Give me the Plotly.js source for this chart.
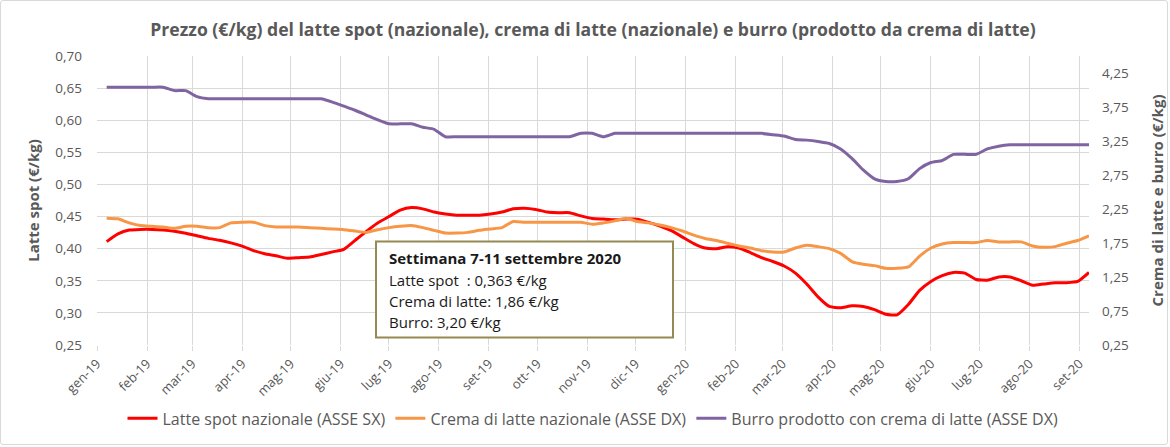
<!DOCTYPE html>
<html>
<head>
<meta charset="utf-8">
<script src="https://cdn.plot.ly/plotly-3.0.1.min.js"></script>
<style>
  html, body { margin: 0; padding: 0; background: #fff; }
  #chart { width: 1170px; height: 447px; position: relative; }
  #frame { position: absolute; left: 0; top: 0; width: 1166px; height: 443px; border: 1px solid #d9d9d9; border-radius: 3px; pointer-events: none; }
</style>
</head>
<body>
<div id="chart"></div>
<div id="frame"></div>
<script>
// Weekly dates (Mondays)
const weeks = [
  '2019-01-07','2019-01-14','2019-01-21','2019-01-28','2019-02-04','2019-02-11','2019-02-18','2019-02-25',
  '2019-03-04','2019-03-11','2019-03-18','2019-03-25','2019-04-01','2019-04-08','2019-04-15','2019-04-22',
  '2019-04-29','2019-05-06','2019-05-13','2019-05-20','2019-05-27','2019-06-03','2019-06-10','2019-06-17',
  '2019-06-24','2019-07-01','2019-07-08','2019-07-15','2019-07-22','2019-07-29','2019-08-05','2019-08-12',
  '2019-08-19','2019-08-26','2019-09-02','2019-09-09','2019-09-16','2019-09-23','2019-09-30','2019-10-07',
  '2019-10-14','2019-10-21','2019-10-28','2019-11-04','2019-11-11','2019-11-18','2019-11-25','2019-12-02',
  '2019-12-09','2019-12-16','2019-12-23','2019-12-30','2020-01-06','2020-01-13','2020-01-20','2020-01-27',
  '2020-02-03','2020-02-10','2020-02-17','2020-02-24','2020-03-02','2020-03-09','2020-03-16','2020-03-23',
  '2020-03-30','2020-04-06','2020-04-13','2020-04-20','2020-04-27','2020-05-04','2020-05-11','2020-05-18',
  '2020-05-25','2020-06-01','2020-06-08','2020-06-15','2020-06-22','2020-06-29','2020-07-06','2020-07-13',
  '2020-07-20','2020-07-27','2020-08-03','2020-08-10','2020-08-17','2020-08-24','2020-08-31','2020-09-07'
];

// Latte spot nazionale (€/kg) - left axis
const latteSpot = [
  0.411,0.423,0.429,0.430,0.430,0.429,0.427,0.424,0.420,0.416,0.413,0.409,0.404,0.397,0.392,0.389,
  0.385,0.386,0.387,0.391,0.395,0.399,0.413,0.427,0.440,0.450,0.460,0.464,0.462,0.457,0.454,0.452,
  0.452,0.452,0.454,0.457,0.462,0.463,0.461,0.457,0.456,0.456,0.451,0.447,0.446,0.445,0.446,0.446,
  0.441,0.435,0.428,0.418,0.408,0.401,0.400,0.403,0.401,0.394,0.386,0.380,0.373,0.362,0.345,0.325,
  0.310,0.308,0.311,0.310,0.305,0.298,0.297,0.313,0.335,0.349,0.358,0.363,0.362,0.352,0.351,0.356,
  0.356,0.350,0.343,0.345,0.347,0.347,0.349,0.363
];

// Crema di latte nazionale (€/kg) - right axis
const cremaLatte = [
  2.12,2.11,2.05,2.01,2.00,1.99,1.97,2.00,2.00,1.98,1.98,2.05,2.06,2.06,2.01,1.99,
  1.99,1.99,1.98,1.97,1.96,1.95,1.93,1.91,1.95,1.98,2.00,2.01,1.98,1.94,1.90,1.90,
  1.91,1.94,1.96,1.98,2.07,2.06,2.06,2.06,2.06,2.06,2.06,2.03,2.05,2.08,2.12,2.07,
  2.05,2.02,1.98,1.93,1.87,1.82,1.79,1.75,1.71,1.68,1.64,1.62,1.62,1.68,1.72,1.70,
  1.67,1.60,1.48,1.44,1.42,1.38,1.38,1.40,1.56,1.68,1.74,1.76,1.76,1.76,1.79,1.77,
  1.77,1.77,1.71,1.69,1.70,1.75,1.79,1.86
];

// Burro prodotto con crema di latte (€/kg) - right axis
const burro = [
  4.05,4.05,4.05,4.05,4.05,4.05,4.00,4.00,3.91,3.88,3.88,3.88,3.88,3.88,3.88,3.88,
  3.88,3.88,3.88,3.88,3.83,3.77,3.71,3.64,3.57,3.51,3.51,3.51,3.46,3.43,3.32,3.32,
  3.32,3.32,3.32,3.32,3.32,3.32,3.32,3.32,3.32,3.32,3.37,3.37,3.32,3.37,3.37,3.37,
  3.37,3.37,3.37,3.37,3.37,3.37,3.37,3.37,3.37,3.37,3.37,3.35,3.33,3.28,3.27,3.25,
  3.22,3.14,3.00,2.83,2.70,2.66,2.66,2.70,2.85,2.94,2.97,3.06,3.06,3.06,3.14,3.18,
  3.20,3.20,3.20,3.20,3.20,3.20,3.20,3.20
];

const monthTicks = [
  '2019-01-01','2019-02-01','2019-03-01','2019-04-01','2019-05-01','2019-06-01','2019-07-01',
  '2019-08-01','2019-09-01','2019-10-01','2019-11-01','2019-12-01','2020-01-01','2020-02-01',
  '2020-03-01','2020-04-01','2020-05-01','2020-06-01','2020-07-01','2020-08-01','2020-09-01'
];
const monthLabels = [
  'gen-19','feb-19','mar-19','apr-19','mag-19','giu-19','lug-19','ago-19','set-19','ott-19','nov-19','dic-19',
  'gen-20','feb-20','mar-20','apr-20','mag-20','giu-20','lug-20','ago-20','set-20'
];
const leftTicks = [0.25,0.30,0.35,0.40,0.45,0.50,0.55,0.60,0.65,0.70];
const rightTicks = [0.25,0.75,1.25,1.75,2.25,2.75,3.25,3.75,4.25];

const seriesNames = [
  'Latte spot nazionale (ASSE SX)',
  'Crema di latte nazionale (ASSE DX)',
  'Burro prodotto con crema di latte (ASSE DX)'
];
const boxLines = [
  '<b>Settimana 7-11 settembre 2020</b>',
  'Latte spot  : 0,363 €/kg',
  'Crema di latte: 1,86 €/kg',
  'Burro: 3,20 €/kg'
];

const FONT = '"Open Sans", Lato, sans-serif';
const GREY = '#595959';

const traces = [
  { x: weeks, y: latteSpot, name: seriesNames[0], type: 'scatter', mode: 'lines', yaxis: 'y',
    line: { color: '#ff0000', width: 3, shape: 'spline', smoothing: 0.5 } },
  { x: weeks, y: cremaLatte, name: seriesNames[1], type: 'scatter', mode: 'lines', yaxis: 'y2',
    line: { color: '#f79646', width: 3, shape: 'spline', smoothing: 0.5 } },
  { x: weeks, y: burro, name: seriesNames[2], type: 'scatter', mode: 'lines', yaxis: 'y2',
    line: { color: '#8064a2', width: 3, shape: 'spline', smoothing: 0.5 } }
];

// plot area geometry (px) for layout placement
const L = 97, R = 1089, T = 56, B = 363;
const px = v => (v - L) / (R - L);
const py = v => (B - v) / (B - T);

const annotations = [];
const lineYs = [270.5, 293.5, 316.5, 339];
boxLines.forEach((t, k) => {
  annotations.push({
    xref: 'paper', yref: 'paper', x: px(387), y: py(lineYs[k]),
    xanchor: 'left', yanchor: 'middle', showarrow: false, align: 'left',
    text: t, font: { family: FONT, size: 15, color: '#1a1a1a' }
  });
});

const layout = {
  width: 1170, height: 447,
  margin: { l: L, r: 1170 - R, t: T, b: 447 - B },
  paper_bgcolor: '#ffffff', plot_bgcolor: '#ffffff',
  separators: ',.',
  font: { family: FONT, color: GREY, size: 13 },
  title: {
    text: '<b>Prezzo (€/kg) del latte spot (nazionale), crema di latte (nazionale) e burro (prodotto da crema di latte)</b>',
    font: { family: FONT, size: 17.6, color: GREY },
    x: 0.5, xanchor: 'center', xref: 'paper', y: 1 - 30 / 447, yanchor: 'middle'
  },
  xaxis: {
    type: 'date',
    range: ['2019-01-01', '2020-09-07'],
    tickmode: 'array', tickvals: monthTicks, ticktext: monthLabels,
    tickangle: -45,
    tickfont: { family: FONT, size: 13, color: GREY },
    showgrid: true, gridcolor: '#d9d9d9', gridwidth: 1,
    ticks: 'outside', ticklen: 5, tickcolor: '#d9d9d9',
    showline: false, zeroline: false
  },
  yaxis: {
    range: [0.25, 0.70],
    tickmode: 'array', tickvals: leftTicks, tickformat: '.2f',
    tickfont: { family: FONT, size: 13.5, color: GREY },
    showgrid: true, gridcolor: '#d9d9d9', gridwidth: 1,
    zeroline: false, showline: false, ticks: '', ticklabelstandoff: 14,
    title: { text: '<b>Latte spot (€/kg)</b>', font: { family: FONT, size: 15, color: GREY }, standoff: 12 }
  },
  yaxis2: {
    overlaying: 'y', side: 'right',
    range: [0.25, 4.51],
    tickmode: 'array', tickvals: rightTicks, tickformat: '.2f',
    tickfont: { family: FONT, size: 13.5, color: GREY },
    showgrid: false, zeroline: false, showline: false, ticks: '', ticklabelstandoff: 12,
    title: { text: '<b>Crema di latte e burro (€/kg)</b>', font: { family: FONT, size: 15, color: GREY }, standoff: 24 }
  },
  showlegend: true,
  legend: {
    orientation: 'h', x: 0.5, xanchor: 'center', y: py(441), yanchor: 'middle',
    font: { family: FONT, size: 16, color: GREY },
    bgcolor: 'rgba(0,0,0,0)', itemwidth: 30, tracegroupgap: 0
  },
  shapes: [{
    type: 'rect', xref: 'paper', yref: 'paper',
    x0: px(376), x1: px(673), y0: py(355), y1: py(253),
    line: { color: '#948a54', width: 2 }, fillcolor: '#ffffff', layer: 'above'
  }],
  annotations: annotations
};

Plotly.newPlot('chart', traces, layout, { displayModeBar: false, staticPlot: true });
</script>
</body>
</html>
